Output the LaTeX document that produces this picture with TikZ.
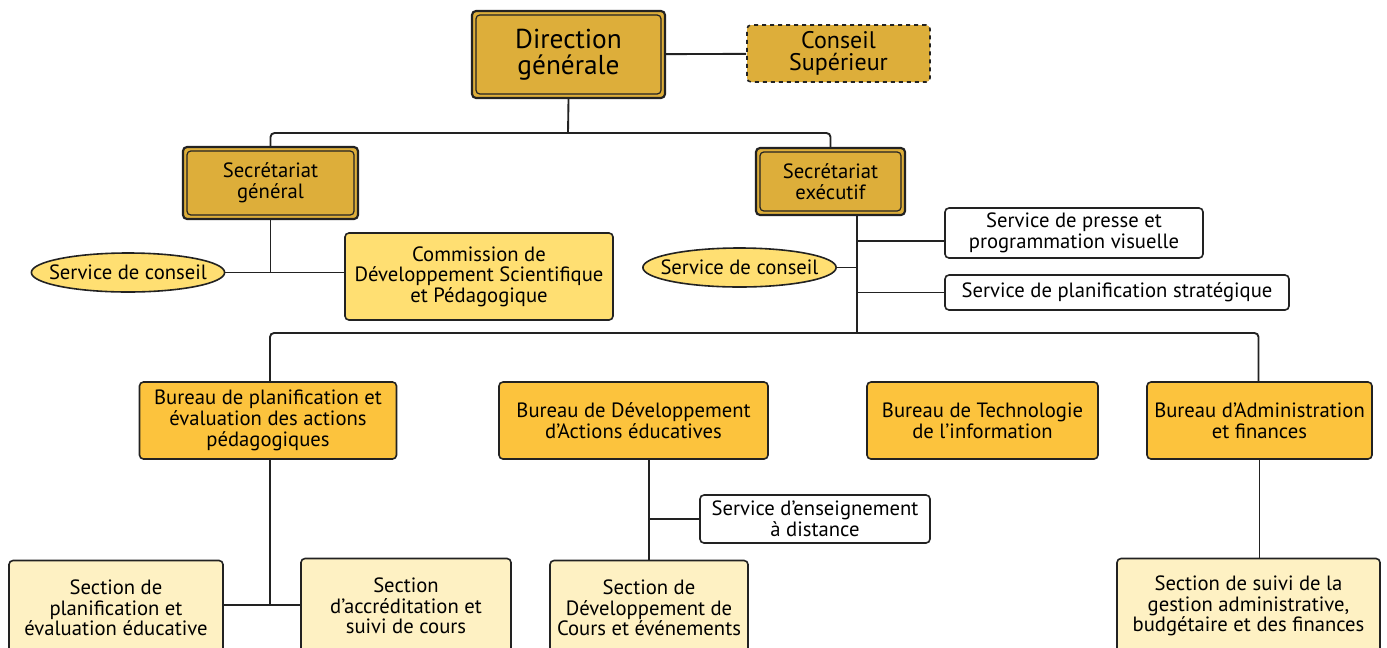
\documentclass[tikz,border=0pt]{standalone}
\usepackage{fontspec}
\setmainfont{PT Sans}
\usetikzlibrary{positioning,calc,shapes.geometric}

\definecolor{chiefgold}{HTML}{DDAE3A}
\definecolor{bureaugold}{HTML}{FCC33D}
\definecolor{servyellow}{HTML}{FFDF72}
\definecolor{sectioncream}{HTML}{FEF1C3}
\definecolor{edge}{HTML}{222222}
\def\pxu{0.75pt}

\begin{document}
\begin{tikzpicture}
  [
    x=0.75pt, y=-0.75pt,
    line width=1.3pt,
    every node/.style = {align=center, inner sep=0pt, font=\fontsize{15.5}{15.5}\selectfont},
    base/.style   = {draw=edge, line width=1.2pt, rounded corners=3pt},
    chief/.style  = {base, fill=chiefgold, line width=1.6pt},
    bureau/.style = {base, fill=bureaugold, minimum height=77*\pxu},
    section/.style= {base, fill=sectioncream, minimum height=95*\pxu},
    plain/.style  = {base, fill=white},
    advice/.style = {draw=edge, line width=1.2pt, fill=servyellow, ellipse, inner xsep=-8pt,
                     minimum height=39*\pxu, minimum width=192*\pxu},
    link/.style   = {draw=edge, line width=1.4pt},
  ]

  \path[use as bounding box, fill=white] (0,0) rectangle (1387,647);

  % top level
  \node (dg) at (568.5,54.5) [chief, minimum width=193*\pxu, minimum height=87*\pxu,
    font=\fontsize{20.5}{19.5}\selectfont] {Direction\\générale};
  \node (cs) at (838.5,53.5) [chief, dashed, line width=1.2pt, minimum width=183*\pxu, minimum height=57*\pxu,
    font=\fontsize{18}{17}\selectfont] {Conseil\\Supérieur};

  % secretariats
  \node (sg) at (270.5,183) [chief, minimum width=175*\pxu, minimum height=72*\pxu] {Secrétariat\\général};
  \node (se) at (830.5,181.5) [chief, minimum width=149*\pxu, minimum height=67*\pxu] {Secrétariat\\exécutif};

  % inner frames of the chief boxes
  \foreach \who in {dg, sg, se}
    \draw[edge, line width=0.9pt, rounded corners=3pt]
      ($(\who.north west)+(5,5)$) rectangle ($(\who.south east)+(-5,-5)$);

  % services round the secretariats
  \node (conseil1) at (128,272.5) [advice] {Service de conseil};
  \node (csdsp) at (479,276.5) [base, fill=servyellow, minimum width=268*\pxu, minimum height=87*\pxu]
    {Commission de\\Développement Scientifique\\et Pédagogique};
  \node (conseil2) at (739.5,267.5) [advice, minimum width=193*\pxu] {Service de conseil};
  \node (presse) at (1074,233) [plain, minimum width=258*\pxu, minimum height=50*\pxu]
    {Service de presse et\\programmation visuelle};
  \node (plan) at (1117,292.5) [plain, minimum width=344*\pxu, minimum height=35*\pxu]
    {Service de planification stratégique};

  % bureaus
  \node (b1) at (268,420.5) [bureau, minimum width=257*\pxu]
    {Bureau de planification et\\évaluation des actions\\pédagogiques};
  \node (b2) at (633.5,420.5) [bureau, minimum width=269*\pxu]
    {Bureau de Développement\\d’Actions éducatives};
  \node (b3) at (982.5,420.5) [bureau, minimum width=231*\pxu]
    {Bureau de Technologie\\de l’information};
  \node (b4) at (1259.5,420.5) [bureau, minimum width=225*\pxu]
    {Bureau d’Administration\\et finances};

  % sections
  \node (sec1) at (116,608) [section, minimum width=214*\pxu]
    {Section de\\planification et\\évaluation éducative};
  \node (sec2) at (406,606) [section, minimum width=210*\pxu]
    {Section\\d’accréditation et\\suivi de cours};
  \node (sec3) at (649,608) [section, minimum width=198*\pxu]
    {Section de\\Développement de\\Cours et événements};
  \node (dist) at (815,519) [plain, minimum width=230*\pxu, minimum height=48*\pxu]
    {Service d’enseignement\\à distance};
  \node (sec4) at (1248.5,606) [section, minimum width=263*\pxu]
    {Section de suivi de la\\gestion administrative,\\budgétaire et des finances};

  % bus lines
  \coordinate (topbus) at (568,133);
  \coordinate (sebus) at (857,333);
  \coordinate (join1) at (270,605);

  % connectors
  \draw[link] (dg) -- (cs);
  \draw[link] (dg.south) -- (topbus);
  \draw[link, rounded corners=3pt] (sg.north) |- (topbus) -| (se.north);

  \draw[link] (sg.south) -- (sg.south |- conseil1.east);
  \draw[link] (conseil1.east) -- (conseil1.east -| csdsp.west);

  \draw[link] (se.south -| sebus) -- (sebus);
  \draw[link] ($(presse.west)+(0,8)$) -- ($(presse.west -| sebus)+(0,8)$);
  \draw[link] (conseil2.east) -- (conseil2.east -| sebus);
  \draw[link] (plan.west) -- (plan.west -| sebus);

  \draw[link, rounded corners=3pt] ($(b1.north)+(2,0)$) |- (sebus) -| ($(b4.north)+(-1,0)$);
  \draw[link] ($(b2.north)+(15,0)$) -- ($(b2.north)+(15,0)$ |- sebus);
  \draw[link] ($(b3.north)+(-27,0)$) -- ($(b3.north)+(-27,0)$ |- sebus);

  \draw[link] ($(b1.south)+(2,0)$) -- (join1);
  \draw[link] (sec1.east |- join1) -- (sec2.west |- join1);
  \draw[link] (sec3.north) -- (sec3.north |- b2.south);
  \draw[link] (dist.west) -- (dist.west -| sec3.north);
  \draw[link] (b4.south) -- (b4.south |- sec4.north);
\end{tikzpicture}
\end{document}
